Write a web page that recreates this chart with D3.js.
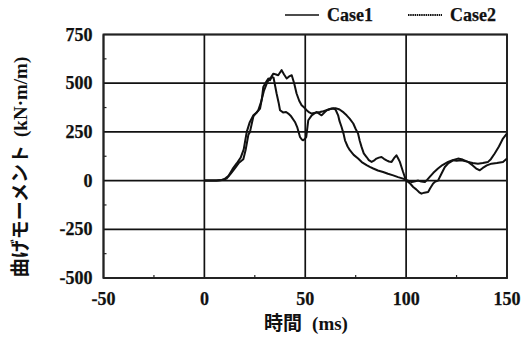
<!DOCTYPE html>
<html>
<head>
<meta charset="utf-8">
<script src="https://cdn.jsdelivr.net/npm/d3@7"></script>
<style>
  html, body { margin: 0; padding: 0; background: #fff; }
  svg { display: block; }
  .tick-label { font-family: "Liberation Serif", "Times New Roman", serif; font-weight: bold; font-size: 18px; fill: #111; stroke: #111; stroke-width: 0.25px; }
</style>
</head>
<body>
<svg id="chart" width="531" height="343"></svg>
<script>
// Bending moment time histories (ms, kN·m/m)
const case1Time = [0, 3, 6, 8.6, 10, 12, 14, 16, 18, 19.5, 21, 22.5, 24.3, 26, 27.6, 28.5, 29.2, 30.5, 31.7, 32.5, 33.4, 34.3, 35.8, 36.8, 37.5, 39, 40.5, 41.6, 43, 44.9, 46, 47.4, 48.2, 49, 49.9, 50.5, 51.5, 53.2, 55.6, 58.1, 60.6, 63, 65, 67, 69, 70.5, 72, 73.8, 75, 76.2, 77, 77.9, 79, 80.4, 81.5, 82.9, 84, 85.3, 86.5, 87.8, 89, 90.3, 91.5, 92.8, 94, 95.2, 96, 96.9, 97.7, 98.5, 99.3, 100.2, 102, 103.5, 105, 106.5, 107.6, 109, 110.9, 112, 113.4, 114.5, 115.8, 117.5, 119.2, 121, 123.3, 125, 127.4, 129, 130.7, 133, 135.6, 138, 140.6, 142, 143.9, 146, 148, 150];
const case1Moment = [0, 0, 1, 3, 8, 25, 60, 88, 118, 160, 250, 300, 335, 350, 370, 420, 481, 505, 524, 515, 532, 528, 447, 400, 361, 350, 352, 344, 330, 301, 275, 224, 212, 207, 215, 224, 310, 335, 352, 335, 361, 370, 372, 365, 350, 335, 318, 293, 265, 241, 205, 173, 140, 121, 105, 96, 102, 113, 118, 121, 112, 104, 98, 96, 115, 130, 115, 96, 70, 44, 20, 0, -15, -33, -45, -60, -67, -62, -58, -38, -15, -5, 0, 35, 70, 90, 104, 102, 104, 100, 96, 90, 87, 90, 96, 110, 139, 175, 216, 242];

const case2Time = [0, 3, 6, 9, 11, 13, 15, 17, 19.3, 20.5, 21.8, 22.6, 24.3, 25.5, 26.7, 28, 29.5, 30.9, 32, 33, 34.2, 35.5, 36.6, 37.5, 38.3, 39.5, 40.8, 42, 43.3, 44.5, 45.7, 47, 48.2, 49.5, 50.7, 52, 53.2, 55, 57.3, 59, 60.6, 62, 63.9, 65, 66.3, 67, 68, 69, 69.7, 71, 72.1, 74, 76.2, 78, 80.4, 82, 83.7, 86, 88.6, 91, 93.6, 96, 98.5, 101, 102.8, 104.5, 106, 107.5, 109.3, 110.5, 111.7, 113.5, 115.8, 118, 120.8, 123, 125.7, 128, 130.7, 133, 135, 136.5, 138, 140, 142.3, 145, 148, 150];
const case2Moment = [0, 0, 0, 3, 10, 35, 62, 90, 110, 160, 235, 250, 330, 345, 361, 400, 460, 498, 520, 530, 549, 545, 541, 555, 567, 545, 524, 535, 541, 500, 447, 410, 387, 375, 361, 350, 344, 348, 352, 356, 361, 366, 370, 365, 335, 305, 275, 240, 207, 175, 156, 132, 113, 95, 79, 70, 62, 52, 44, 35, 27, 18, 10, 0, -7, -3, 0, -5, -7, 5, 19, 40, 62, 80, 96, 105, 113, 108, 96, 78, 60, 53, 65, 78, 87, 90, 96, 113];

const xTicks = [-50, 0, 50, 100, 150];
const yTicks = [-500, -250, 0, 250, 500, 750];
const xMinorTicks = [-25, 25, 75, 125];
const yMinorTicks = [-375, -125, 125, 375, 625];
const seriesNames = ["Case1", "Case2"];

const svg = d3.select("#chart");
const plot = { left: 103.5, right: 507, top: 34.5, bottom: 278 };

const x = d3.scaleLinear().domain([-50, 150]).range([plot.left, plot.right]);
const y = d3.scaleLinear().domain([-500, 750]).range([plot.bottom, plot.top]);

// grid lines at major ticks
svg.append("g").selectAll("line").data(xTicks).join("line")
  .attr("x1", d => x(d)).attr("x2", d => x(d))
  .attr("y1", plot.top).attr("y2", plot.bottom)
  .attr("stroke", "#111").attr("stroke-width", 1.7);
svg.append("g").selectAll("line").data(yTicks).join("line")
  .attr("x1", plot.left).attr("x2", plot.right)
  .attr("y1", d => y(d)).attr("y2", d => y(d))
  .attr("stroke", "#111").attr("stroke-width", 1.7);

// minor inward ticks
svg.append("g").selectAll("line").data(yMinorTicks).join("line")
  .attr("x1", plot.left).attr("x2", plot.left + 3)
  .attr("y1", d => y(d)).attr("y2", d => y(d))
  .attr("stroke", "#222").attr("stroke-width", 1.2);
svg.append("g").selectAll("line").data(xMinorTicks).join("line")
  .attr("x1", d => x(d)).attr("x2", d => x(d))
  .attr("y1", plot.bottom).attr("y2", plot.bottom - 3)
  .attr("stroke", "#222").attr("stroke-width", 1.2);

// frame
svg.append("rect")
  .attr("x", plot.left).attr("y", plot.top)
  .attr("width", plot.right - plot.left).attr("height", plot.bottom - plot.top)
  .attr("fill", "none").attr("stroke", "#222").attr("stroke-width", 1.9);

// tick labels
svg.append("g").selectAll("text").data(yTicks).join("text")
  .attr("class", "tick-label")
  .attr("x", plot.left - 11).attr("y", d => y(d) + 6)
  .attr("text-anchor", "end")
  .text(d => d);
svg.append("g").selectAll("text").data(xTicks).join("text")
  .attr("class", "tick-label")
  .attr("x", d => x(d)).attr("y", 305)
  .attr("text-anchor", "middle")
  .text(d => d);

// series
const line = d3.line().x(d => x(d[0])).y(d => y(d[1])).curve(d3.curveLinear);
const series = [
  { name: seriesNames[0], pts: d3.zip(case1Time, case1Moment) },
  { name: seriesNames[1], pts: d3.zip(case2Time, case2Moment) }
];
svg.append("g").selectAll("path").data(series).join("path")
  .attr("d", d => line(d.pts))
  .attr("fill", "none").attr("stroke", "#111").attr("stroke-width", 2)
  .attr("stroke-linejoin", "round");

// legend
const legend = svg.append("g");
const legendX = [285, 408];
series.forEach((s, i) => {
  legend.append("line")
    .attr("x1", legendX[i]).attr("x2", legendX[i] + 34)
    .attr("y1", 15).attr("y2", 15)
    .attr("stroke", "#111").attr("stroke-width", i === 0 ? 1.6 : 2)
    .attr("stroke-dasharray", i === 0 ? null : "1.5,0.7");
  legend.append("text")
    .attr("class", "tick-label")
    .attr("x", legendX[i] + 42).attr("y", 21)
    .text(s.name);
});

// axis titles
svg.append("text")
  .attr("x", 306).attr("y", 330)
  .attr("text-anchor", "middle")
  .style("font-size", "19px").style("font-weight", "bold").style("fill", "#111")
  .call(t => {
    t.append("tspan").style("font-family", "'Noto Sans CJK JP', sans-serif").text("時間");
    t.append("tspan").attr("dx", 10).style("font-family", "'Liberation Serif', serif").text("(ms)");
  });

svg.append("text")
  .attr("transform", "translate(27,167) rotate(-90)")
  .attr("text-anchor", "middle")
  .style("font-size", "19px").style("font-weight", "bold").style("fill", "#111")
  .call(t => {
    t.append("tspan").style("font-family", "'Noto Sans CJK JP', sans-serif").text("曲げモーメント");
    t.append("tspan").attr("dx", 8).style("font-family", "'Liberation Serif', serif").text("(kN·m/m)");
  });
</script>
</body>
</html>
